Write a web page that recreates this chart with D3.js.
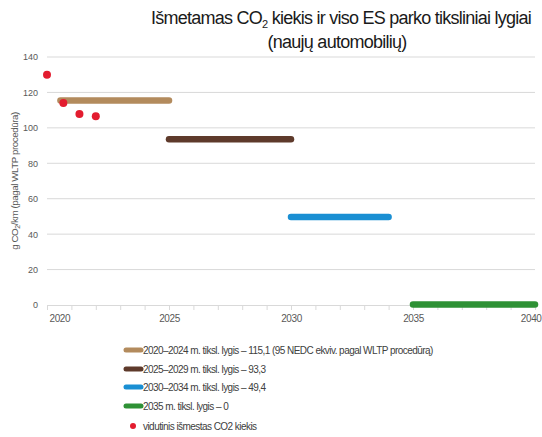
<!DOCTYPE html>
<html><head><meta charset="utf-8">
<script src="https://cdn.jsdelivr.net/npm/d3@7"></script>
<style>
body{margin:0;background:#fff;}
svg{font-family:"Liberation Sans",Arial,sans-serif;}
</style></head><body>
<svg id="c" width="542" height="437"></svg>
<script>
const yTicks = [0,20,40,60,80,100,120,140];
const xTicks = [2020,2025,2030,2035,2040];
const targetLabels = ["2020\u20132024 m. tiksl. lygis \u2013 115,1 (95 NEDC ekviv. pagal WLTP procedūrą)",
  "2025\u20132029 m. tiksl. lygis \u2013 93,3",
  "2030\u20132034 m. tiksl. lygis \u2013 49,4",
  "2035 m. tiksl. lygis \u2013 0"];
const targetStart = [2020.55, 2025, 2030, 2035];
const targetEnd = [2025, 2030, 2034, 2040];
const targetValue = [115.1, 93.3, 49.4, 0];
const targetColors = ["#b38b5d","#5e3a2b","#1a8fd3","#2e9135"];
const pointYears = [2020, 2020.67, 2021.33, 2022];
const pointValues = [130, 114, 107.8, 106.5];
const pointLabel = "vidutinis išmestas CO2 kiekis";

const svg = d3.select("#c");
const x = d3.scaleLinear().domain([2020,2040]).range([47,535]);
const y = d3.scaleLinear().domain([0,140]).range([305,57]);

// gridlines
svg.append("g").selectAll("line").data(yTicks.filter(d=>d>0)).join("line")
  .attr("x1",47).attr("x2",535).attr("y1",d=>y(d)).attr("y2",d=>y(d))
  .attr("stroke","#d9d9d9").attr("stroke-width",1);

// y axis labels
const ya = svg.append("g").attr("transform","translate(47,0)")
  .call(d3.axisLeft(y).tickValues(yTicks).tickSize(0).tickPadding(9));
ya.select(".domain").remove();
ya.selectAll("text").attr("fill","#595959").attr("font-size","9px").attr("font-family","Liberation Sans, Arial");

// x axis
const xa = svg.append("g").attr("transform","translate(0,305)")
  .call(d3.axisBottom(x).tickValues(d3.range(2020,2041)).tickSize(5).tickFormat(d=>xTicks.includes(d)?d:""));
xa.select(".domain").attr("stroke","#d9d9d9").attr("d","M47,0.5H535");
xa.selectAll(".tick line").attr("stroke","#d9d9d9");
xa.selectAll("text").attr("fill","#595959").attr("font-size","10px").attr("dy","0.9em").attr("font-family","Liberation Sans, Arial").attr("letter-spacing","-0.4px");
xa.selectAll(".tick").filter(d=>d===2020).select("text").attr("text-anchor","start").attr("x",2);
xa.selectAll(".tick").filter(d=>d===2040).select("text").attr("text-anchor","end").attr("x",6);

// target lines
svg.append("g").selectAll("line").data(targetValue).join("line")
  .attr("x1",(d,i)=>x(targetStart[i])).attr("x2",(d,i)=>x(targetEnd[i]))
  .attr("y1",d=>y(d)-0.5).attr("y2",d=>y(d)-0.5)
  .attr("stroke",(d,i)=>targetColors[i]).attr("stroke-width",6.5).attr("stroke-linecap","round");

// points
svg.append("g").selectAll("circle").data(pointValues).join("circle")
  .attr("cx",(d,i)=>x(pointYears[i])).attr("cy",d=>y(d)).attr("r",4).attr("fill","#e31c2f");

// title
const t = svg.append("text").attr("x",341).attr("y",24).attr("text-anchor","middle")
  .attr("font-size","18px").attr("fill","#1a1a1a").attr("letter-spacing","-0.75px");
t.append("tspan").text("Išmetamas CO");
t.append("tspan").text("2").attr("font-size","11px").attr("dy",4);
t.append("tspan").text(" kiekis ir viso ES parko tiksliniai lygiai").attr("dy",-4);
svg.append("text").attr("x",337).attr("y",48).attr("text-anchor","middle")
  .attr("font-size","18px").attr("fill","#1a1a1a").attr("letter-spacing","-0.75px").text("(naujų automobilių)");

// y axis title
const yt = svg.append("text").attr("transform","translate(18,181) rotate(-90)").attr("text-anchor","middle")
  .attr("font-size","9.8px").attr("fill","#595959").attr("letter-spacing","-0.45px");
yt.append("tspan").text("g CO");
yt.append("tspan").text("2").attr("font-size","7px").attr("dy",2);
yt.append("tspan").text("/km (pagal WLTP procedūra)").attr("dy",-2);

// legend
const ly = [350,369,387,406];
const lg = svg.append("g");
targetLabels.forEach((lab,i)=>{
  lg.append("line").attr("x1",126).attr("x2",141).attr("y1",ly[i]).attr("y2",ly[i])
    .attr("stroke",targetColors[i]).attr("stroke-width",5).attr("stroke-linecap","round");
  lg.append("text").attr("x",143).attr("y",ly[i]+3.5).attr("font-size","10px").attr("fill","#404040")
    .attr("letter-spacing","-0.55px").text(lab);
});
lg.append("circle").attr("cx",133).attr("cy",426).attr("r",3).attr("fill","#e31c2f");
lg.append("text").attr("x",143).attr("y",429.5).attr("font-size","10px").attr("fill","#404040")
  .attr("letter-spacing","-0.55px").text(pointLabel);
</script></body></html>
